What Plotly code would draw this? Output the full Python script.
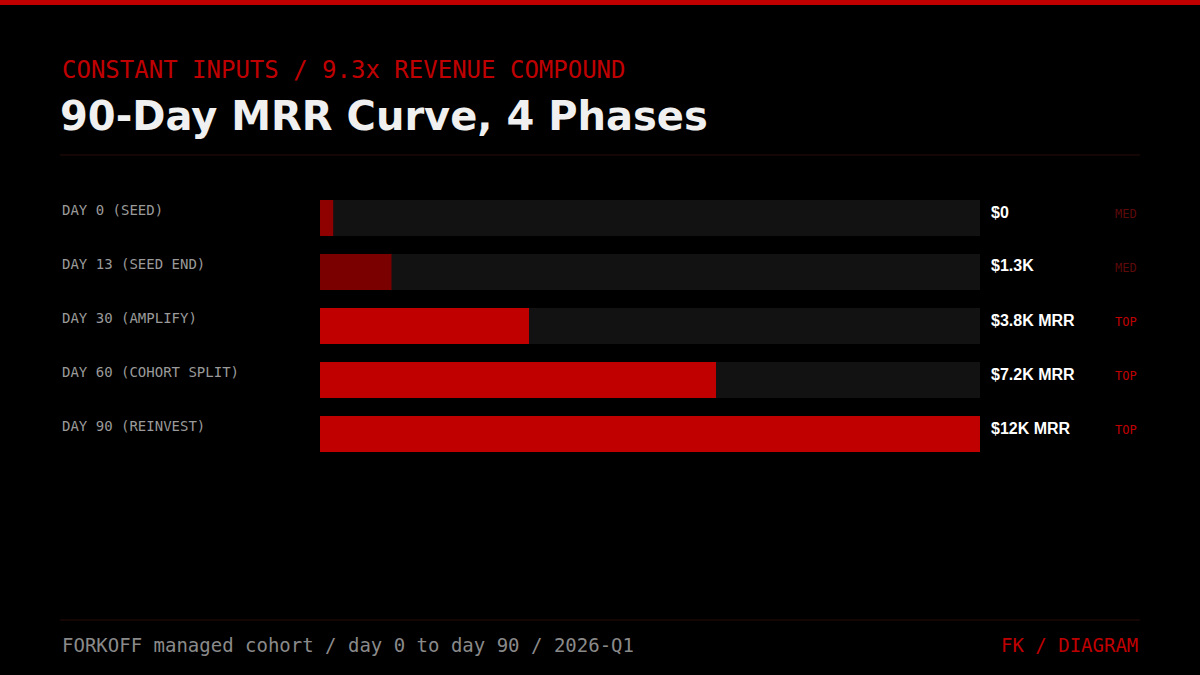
import plotly.graph_objects as go

labels = ["DAY 0 (SEED)", "DAY 13 (SEED END)", "DAY 30 (AMPLIFY)", "DAY 60 (COHORT SPLIT)", "DAY 90 (REINVEST)"]
mrr_k = [0, 1.3, 3.8, 7.2, 12.0]
value_text = ["$0", "$1.3K", "$3.8K MRR", "$7.2K MRR", "$12K MRR"]
tags = ["MED", "MED", "TOP", "TOP", "TOP"]
bar_colors = ["#8f0000", "#7a0000", "#c00000", "#c00000", "#c00000"]
tag_colors = ["#5c0a0a", "#5c0a0a", "#c00000", "#c00000", "#c00000"]
axis_max = 12.0
min_visible = 0.24

W, H = 1200, 675
ys = list(range(len(labels)))
fig = go.Figure()
fig.add_trace(go.Bar(y=ys, x=[axis_max]*len(ys), orientation="h", width=0.667,
                     marker=dict(color="#121212", line=dict(width=0)), hoverinfo="skip"))
fig.add_trace(go.Bar(y=ys, x=[max(v, min_visible) for v in mrr_k], orientation="h", width=0.667,
                     marker=dict(color=bar_colors, line=dict(width=0)), hoverinfo="skip"))

def px(x): return x / W
def py(y): return 1 - y / H
ann = []
mono = "DejaVu Sans Mono"
ann.append(dict(x=px(60), y=py(70), text="CONSTANT INPUTS / 9.3x REVENUE COMPOUND", xanchor="left", yanchor="middle",
                font=dict(family=mono, size=24, color="#c00000")))
ann.append(dict(x=px(58), y=py(116), text="<b>90-Day MRR Curve, 4 Phases</b>", xanchor="left", yanchor="middle",
                font=dict(family="DejaVu Sans", size=40, color="#f0f0f0")))
for i, lab in enumerate(labels):
    cy = 218 + 54 * i
    ann.append(dict(x=px(60), y=py(cy - 8), text=lab, xanchor="left", yanchor="middle",
                    font=dict(family=mono, size=14, color="#9a9a9a")))
    ann.append(dict(x=px(989), y=py(cy - 6), text="<b>" + value_text[i] + "</b>", xanchor="left", yanchor="middle",
                    font=dict(family="Liberation Sans", size=16, color="#ffffff")))
    ann.append(dict(x=px(1139), y=py(cy - 4), text=tags[i], xanchor="right", yanchor="middle",
                    font=dict(family=mono, size=12, color=tag_colors[i])))
ann.append(dict(x=px(60), y=py(645), text="FORKOFF managed cohort / day 0 to day 90 / 2026-Q1", xanchor="left", yanchor="middle",
                font=dict(family=mono, size=19, color="#8a8a8a")))
ann.append(dict(x=px(1140), y=py(645), text="FK / DIAGRAM", xanchor="right", yanchor="middle",
                font=dict(family=mono, size=19, color="#c00000")))
for a in ann:
    a.update(xref="paper", yref="paper", showarrow=False)

shapes = [
    dict(type="rect", xref="paper", yref="paper", x0=0, x1=1, y0=py(5), y1=1, fillcolor="#c00000", line=dict(width=0)),
    dict(type="line", xref="paper", yref="paper", x0=px(60), x1=px(1140), y0=py(155), y1=py(155), line=dict(color="#2a0c0c", width=1)),
    dict(type="line", xref="paper", yref="paper", x0=px(60), x1=px(1140), y0=py(620), y1=py(620), line=dict(color="#2a0c0c", width=1)),
]

fig.update_layout(width=W, height=H, margin=dict(l=0, r=0, t=0, b=0), paper_bgcolor="#000", plot_bgcolor="#000",
                  barmode="overlay", showlegend=False, annotations=ann, shapes=shapes,
                  xaxis=dict(domain=[px(320), px(980)], range=[0, axis_max], visible=False, fixedrange=True),
                  yaxis=dict(domain=[0, 1], range=[(675 - 218) / 54, -218 / 54], visible=False, fixedrange=True))
fig.write_html("out.html", config=dict(displayModeBar=False),
               post_script="document.body.style.margin='0';document.body.style.background='#000';")
